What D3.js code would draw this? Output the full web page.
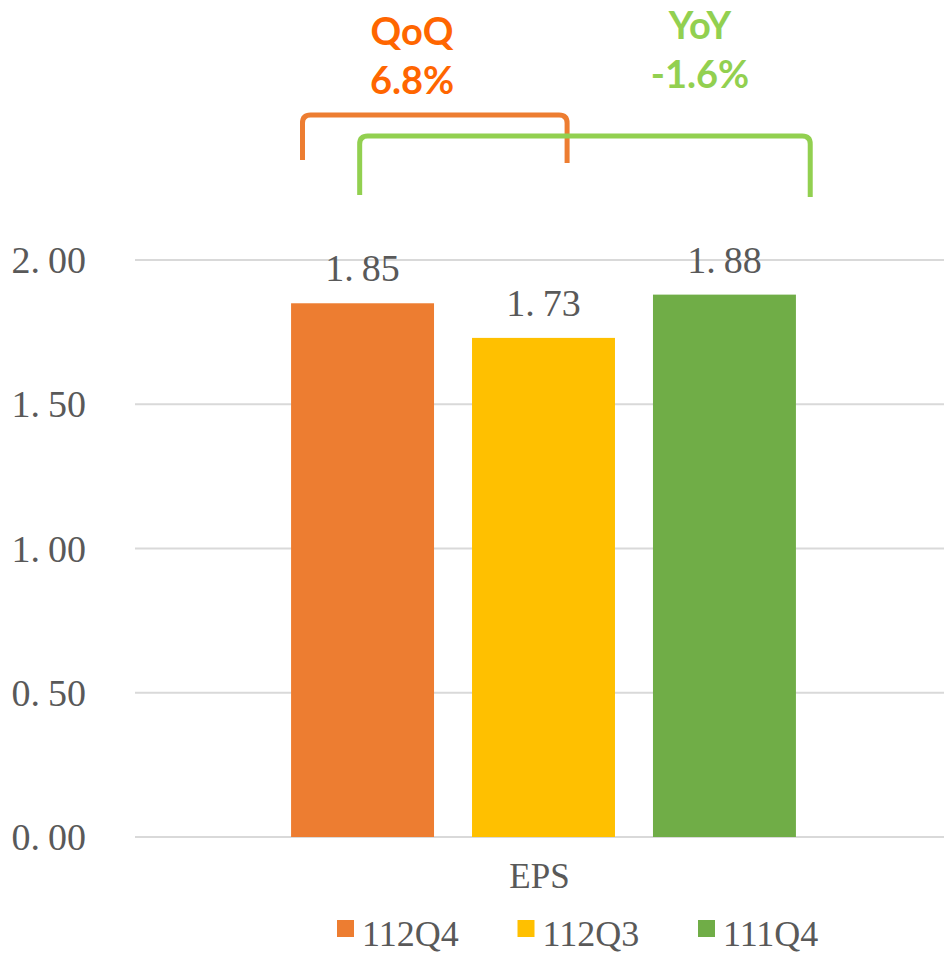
<!DOCTYPE html>
<html>
<head>
<meta charset="utf-8">
<script src="https://cdn.jsdelivr.net/npm/d3@7"></script>
<style>
  body { margin: 0; background: #fff; }
  .num { font-family: "Liberation Serif", "DejaVu Serif", serif; fill: #595959; }
  .note { font-family: Lato, "Open Sans", sans-serif; font-weight: bold; }
</style>
</head>
<body>
<svg id="chart" width="944" height="955"></svg>
<script>
var categories = ["EPS"];
var series = ["112Q4", "112Q3", "111Q4"];
var values = [1.85, 1.73, 1.88];
var colors = ["#ED7D31", "#FFC000", "#70AD47"];
var yTicks = [0, 0.5, 1.0, 1.5, 2.0];

// change annotations: [from series, to series, title, value]
var notes = [
    {from: 0, to: 1, title: "QoQ", value: "6.8%", text: "#FF6600", line: "#ED7D31"},
    {from: 0, to: 2, title: "YoY", value: "-1.6%", text: "#92D050", line: "#92D050"}
];

var svg = d3.select("#chart");
var left = 135, right = 944;

var y = d3.scaleLinear().domain([0, 2]).range([837, 260]);

var x0 = d3.scaleBand().domain(categories).range([139, 948]).paddingOuter(0.216);
var x1 = d3.scaleBand().domain(series).range([0, x0.bandwidth()])
    .paddingInner(0.21).paddingOuter(0.166);

// split "2.00" into "2." and "00" so the decimals sit a bit apart
function numText(sel, v){
    var s = d3.format(".2f")(v).split(".");
    sel.append("tspan").text(s[0] + ".");
    sel.append("tspan").attr("dx", 8).text(s[1]);
}

// gridlines
svg.selectAll(".grid").data(yTicks).enter().append("line")
    .attr("x1", left).attr("x2", right)
    .attr("y1", function(d){ return y(d); })
    .attr("y2", function(d){ return y(d); })
    .attr("stroke", "#D9D9D9")
    .attr("stroke-width", 2);

// tick labels
svg.selectAll(".tick").data(yTicks).enter().append("text")
    .attr("class", "num")
    .attr("x", 86)
    .attr("y", function(d){ return y(d) + 13; })
    .attr("text-anchor", "end")
    .style("font-size", "38px")
    .each(function(d){ numText(d3.select(this), d); });

var g = svg.selectAll(".cat").data(categories).enter().append("g")
    .attr("transform", function(d){ return "translate(" + x0(d) + ",0)"; });

// bars
g.selectAll("rect").data(values).enter().append("rect")
    .attr("x", function(d, i){ return x1(series[i]); })
    .attr("y", function(d){ return y(d); })
    .attr("width", x1.bandwidth())
    .attr("height", function(d){ return y(0) - y(d); })
    .attr("fill", function(d, i){ return colors[i]; });

// value labels
g.selectAll(".val").data(values).enter().append("text")
    .attr("class", "num")
    .attr("x", function(d, i){ return x1(series[i]) + x1.bandwidth()/2; })
    .attr("y", function(d){ return y(d) - 22; })
    .attr("text-anchor", "middle")
    .style("font-size", "38px")
    .each(function(d){ numText(d3.select(this), d); });

// category label
svg.selectAll(".catLabel").data(categories).enter().append("text")
    .attr("class", "num")
    .attr("x", function(d){ return x0(d) + x0.bandwidth()/2 - 4; })
    .attr("y", 888)
    .attr("text-anchor", "middle")
    .style("font-size", "35px")
    .text(function(d){ return d; });

// legend
var legend = svg.selectAll(".leg").data(series).enter().append("g")
    .attr("transform", function(d, i){ return "translate(" + (337 + i*180.5) + ",920)"; });
legend.append("rect")
    .attr("width", 17).attr("height", 17)
    .attr("fill", function(d, i){ return colors[i]; });
legend.append("text")
    .attr("class", "num")
    .attr("x", 25).attr("y", 26)
    .style("font-size", "36px")
    .text(function(d){ return d; });

// change brackets
function bx(i, f){ return x0(categories[0]) + x1(series[i]) + f * x1.bandwidth(); }
var brackets = [
    {x1: bx(0, 0.08), x2: bx(1, 0.665), top: 115, b1: 160, b2: 163, tx: 412, ty: 45},
    {x1: bx(0, 0.48), x2: bx(2, 1.1), top: 136, b1: 195, b2: 197, tx: 700, ty: 39}
];

notes.forEach(function(n, k){
    var b = brackets[k], r = 8;
    var path = "M" + b.x1 + "," + b.b1 + " L" + b.x1 + "," + (b.top + r) +
        " Q" + b.x1 + "," + b.top + " " + (b.x1 + r) + "," + b.top +
        " L" + (b.x2 - r) + "," + b.top +
        " Q" + b.x2 + "," + b.top + " " + b.x2 + "," + (b.top + r) +
        " L" + b.x2 + "," + b.b2;
    svg.append("path")
        .attr("d", path)
        .attr("fill", "none")
        .attr("stroke", n.line)
        .attr("stroke-width", 5);

    svg.append("text")
        .attr("class", "note")
        .attr("x", b.tx).attr("y", b.ty)
        .attr("text-anchor", "middle")
        .attr("fill", n.text)
        .style("font-size", "38px")
        .text(n.title);
    svg.append("text")
        .attr("class", "note")
        .attr("x", b.tx).attr("y", b.ty + 49)
        .attr("text-anchor", "middle")
        .attr("fill", n.text)
        .style("font-size", "38px")
        .text(n.value);
});
</script>
</body>
</html>
